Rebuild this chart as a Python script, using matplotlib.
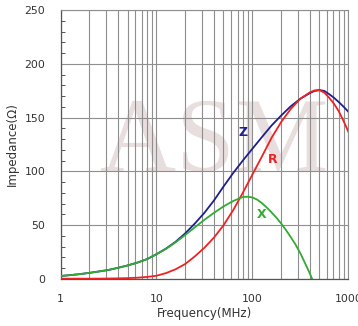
import matplotlib
matplotlib.use("Agg")
import matplotlib.pyplot as plt
from matplotlib.ticker import FixedLocator, MultipleLocator, NullFormatter

# ---- data ----
f_x = [1, 1.26, 1.58, 2, 2.51, 3.16, 3.98, 5.01, 6.31, 7.94, 10, 12.6, 15.8, 20, 25.1, 31.6,
       39.8, 50.1, 63.1, 79.4, 89, 100, 112, 126, 141, 158, 178, 200, 224, 251, 282, 316, 355, 398, 420]
X   = [2.8, 3.6, 4.5, 5.7, 7, 8.4, 10.4, 12.6, 15.2, 18.4, 23, 28, 34, 41, 48, 55,
       61.5, 67.5, 72.5, 76.2, 76.5, 75.8, 73.8, 70.5, 66.5, 62, 57, 51.5, 45.5, 39, 32, 24, 14.5, 5, 0]

f_r = [1, 2, 3, 3.98, 5.01, 6.31, 7.94, 10, 12.6, 15.8, 20, 25.1, 31.6, 39.8, 50.1, 63.1, 79.4,
       100, 126, 158, 200, 251, 316, 398, 446, 501, 562, 631, 708, 794, 891, 1000]
R   = [0.3, 0.3, 0.4, 0.6, 0.8, 1.2, 1.9, 3, 5.5, 9, 14, 21, 29, 38.5, 50, 64, 80,
       97, 114, 131, 146, 158, 167.5, 173.5, 175.3, 175.5, 173.2, 168.5, 163, 156, 147, 137]

f_z = [1, 1.26, 1.58, 2, 2.51, 3.16, 3.98, 5.01, 6.31, 7.94, 10, 12.6, 15.8, 20, 25.1, 31.6,
       39.8, 50.1, 63.1, 79.4, 100, 126, 158, 200, 251, 316, 398, 446, 501, 562, 631, 708, 794, 891, 1000]
Z   = [2.8, 3.6, 4.5, 5.7, 7, 8.4, 10.4, 12.6, 15.2, 18.4, 23, 28.3, 34.5, 42.5, 51.5, 61.5,
       73, 86, 98.5, 110, 121, 132, 142.5, 152, 160.5, 167.5, 172.8, 174.8, 175.6, 174.8, 171.8,
       168.5, 164.5, 160.2, 155.5]

y_ticks = [0, 50, 100, 150, 200, 250]
x_ticks = [1, 10, 100, 1000]
x_tick_labels = ["1", "10", "100", "1000"]

# ---- figure ----
fig = plt.figure(figsize=(3.58, 3.26), dpi=100)
ax = fig.add_axes([60.5 / 358, 1 - 279 / 326, (348.3 - 60.5) / 358, (279 - 10) / 326])

ax.set_xscale("log")
ax.set_xlim(1, 1000)
ax.set_ylim(0, 250)

# watermark
ax.text(0.535, 0.495, "ASM", transform=ax.transAxes, ha="center", va="center",
        fontsize=76, family="Liberation Serif", color="#e9dede", zorder=0.2)

grid_color = "#8e8e8e"
ax.xaxis.set_major_locator(FixedLocator(x_ticks))
minor_x = [m * d for d in (1, 10, 100) for m in range(2, 10)]
ax.xaxis.set_minor_locator(FixedLocator(minor_x))
ax.xaxis.set_minor_formatter(NullFormatter())
ax.set_xticklabels(x_tick_labels)
ax.yaxis.set_major_locator(FixedLocator(y_ticks))
ax.yaxis.set_minor_locator(MultipleLocator(10))

ax.grid(True, which="major", axis="both", color=grid_color, lw=0.8)
ax.grid(True, which="minor", axis="x", color=grid_color, lw=0.8)
ax.set_axisbelow(True)

ax.tick_params(axis="x", which="both", length=0, pad=11, labelsize=7.8, colors="#333333")
ax.tick_params(axis="y", which="major", length=0, pad=11, labelsize=7.8, colors="#333333")
ax.tick_params(axis="y", which="minor", direction="in", length=3, width=0.7, color="#555555")

for s in ("top", "right"):
    ax.spines[s].set_color(grid_color)
    ax.spines[s].set_linewidth(0.8)
for s in ("left", "bottom"):
    ax.spines[s].set_color("#555555")
    ax.spines[s].set_linewidth(0.9)

c_z, c_r, c_x = "#1f1f8c", "#ee2222", "#33aa33"
ax.plot(f_z, Z, color=c_z, lw=1.3, zorder=3)
ax.plot(f_r, R, color=c_r, lw=1.3, zorder=4)
ax.plot(f_x, X, color=c_x, lw=1.3, zorder=5)

ax.text(79.6, 135.7, "Z", color=c_z, fontsize=9, fontweight="bold", ha="center", va="center", zorder=6)
ax.text(163.6, 110.6, "R", color=c_r, fontsize=9, fontweight="bold", ha="center", va="center", zorder=6)
ax.text(125.6, 59.5, "X", color=c_x, fontsize=9, fontweight="bold", ha="center", va="center", zorder=6)

ax.set_xlabel("Frequency(MHz)", fontsize=8.5, color="#333333", labelpad=2)
ax.set_ylabel("Impedance(Ω)", fontsize=8.5, color="#333333", labelpad=4)

fig.savefig("out.png", dpi=100)
